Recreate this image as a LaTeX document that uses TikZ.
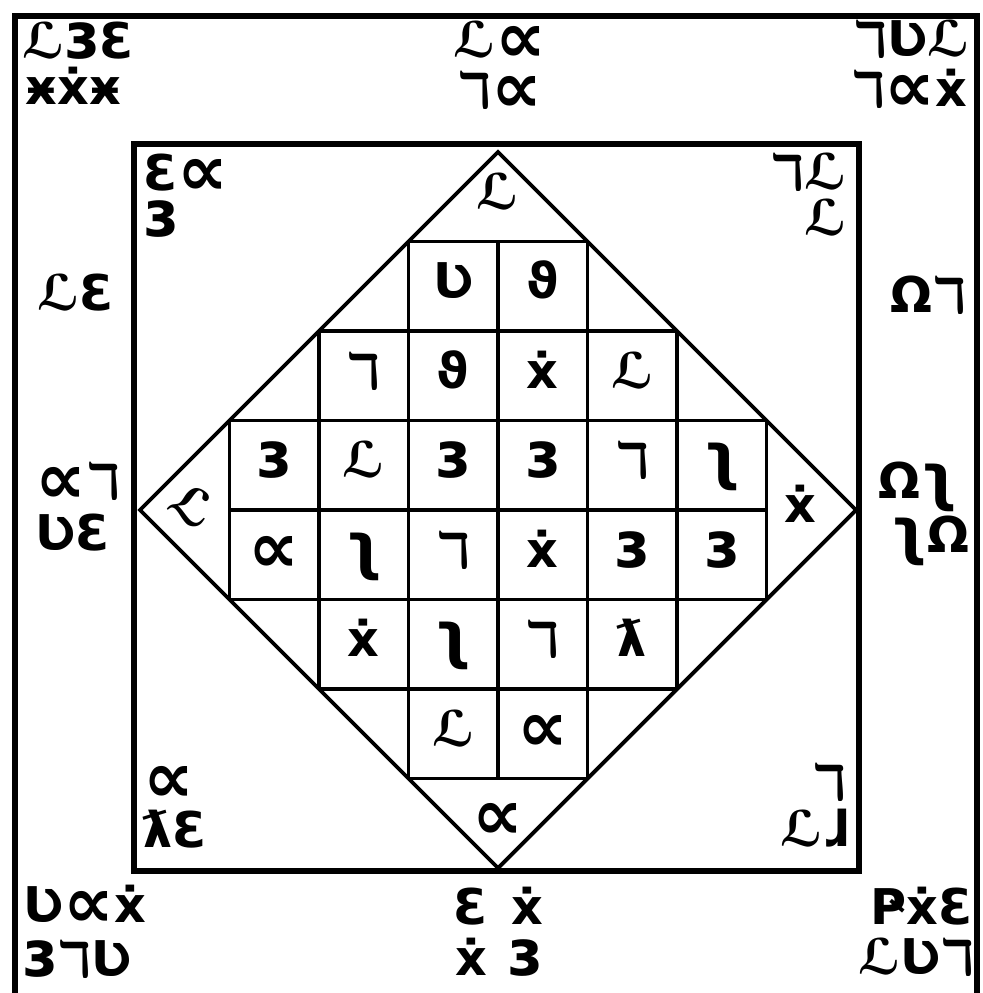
\documentclass[tikz,border=0pt]{standalone}
\usepackage{fontspec}
\setmainfont{DejaVu Sans}
\usetikzlibrary{positioning}
\newcommand\gProp{\raisebox{-0.1em}{\scalebox{1.45}{∝}}}
\newcommand\gHook{\scalebox{1.25}{ʅ}}
\newcommand\gEzh{\scalebox{1.3}{ɜ}}
\tikzset{frame/.style={draw, line width=1.6pt},
  grid/.style={draw, line width=1.1pt},
  glyph/.style={inner sep=0pt, text height=0.72em, text depth=0pt,
    font=\fontsize{14}{14}\selectfont\bfseries}}

\begin{document}
\begin{tikzpicture}[x=0.01cm, y=-0.01cm]
  \useasboundingbox (0,0) rectangle (983,993);
  % frames
  \draw[frame] (15,1000) -- (15,16) -- (977,16) -- (977,1000);
  \draw[frame] (134,144) rectangle (859,871);
  % diamond
  \coordinate (top) at (498,152);
  \coordinate (lft) at (140,510);
  \coordinate (rgt) at (856,510);
  \coordinate (bot) at (498,868);
  \draw[grid] (top) -- (rgt) -- (bot) -- (lft) -- cycle;
  % stepped grid
  \foreach \k/\w in {-3/1,-2/2,-1/3,0/3,1/3,2/2,3/1}{
    \draw[grid] ({498-\w*89.5},{510+\k*89.5}) -- ({498+\w*89.5},{510+\k*89.5});
    \draw[grid] ({498+\k*89.5},{510-\w*89.5}) -- ({498+\k*89.5},{510+\w*89.5});}
  % cells
  \foreach \r/\c/\g in {-3/-1/Ʋ, -3/0/ϑ,
      -2/-2/ℸ, -2/-1/ϑ, -2/0/ẋ, -2/1/ℒ,
      -1/-3/\gEzh, -1/-2/ℒ, -1/-1/\gEzh, -1/0/\gEzh, -1/1/ℸ, -1/2/\gHook,
      0/-3/\gProp, 0/-2/\gHook, 0/-1/ℸ, 0/0/ẋ, 0/1/\gEzh, 0/2/\gEzh,
      1/-2/ẋ, 1/-1/\gHook, 1/0/ℸ, 1/1/ƛ,
      2/-1/ℒ, 2/0/\gProp}
    \node[glyph] (cell\r\c) at ({498+(\c+0.5)*89.5},{510+(\r+0.5)*89.5}) {\g};
  % triangles
  \node[glyph] (ttop) at (498,197) {ℒ};
  \node[glyph, rotate=-35] (tlft) at (190,510) {ℒ};
  \node[glyph] (trgt) at (800,510) {ẋ};
  \node[glyph] (tbot) at (498,822) {\gProp};
  % inner corners
  \node[glyph, anchor=west] (itl1) at (143,178) {Ɛ\gProp};
  \node[glyph, anchor=west] (itl2) at (143,224) {\gEzh};
  \node[glyph, anchor=east] (itr1) at (847,177) {ℸℒ};
  \node[glyph, anchor=east] (itr2) at (847,223) {ℒ};
  \node[glyph, anchor=west] (ibl1) at (143,785) {\gProp};
  \node[glyph, anchor=west] (ibl2) at (143,835) {ƛƐ};
  \node[glyph, anchor=east] (ibr1) at (847,787) {ℸ};
  \node[glyph, anchor=east] (ibr2) at (850,834) {ℒɺ};
  % outer band
  \node[glyph, anchor=west] (tl1) at (22,46) {ℒ\gEzh Ɛ};
  \node[glyph, anchor=west] (tl2) at (25,92) {ӿẋӿ};
  \node[glyph] (tc1) at (500,45) {ℒ\gProp};
  \node[glyph] (tc2) at (500,95) {ℸ\gProp};
  \node[glyph, anchor=east] (tr1) at (970,44) {ℸƲℒ};
  \node[glyph, anchor=east] (tr2) at (968,94) {ℸ\gProp ẋ};
  \node[glyph, anchor=west] (ml1) at (37,298) {ℒƐ};
  \node[glyph, anchor=west] (ml2) at (35,486) {\gProp ℸ};
  \node[glyph, anchor=west] (ml3) at (35,538) {ƲƐ};
  \node[glyph, anchor=east] (mr1) at (967,300) {Ωℸ};
  \node[glyph, anchor=east] (mr2) at (958,486) {Ω\gHook};
  \node[glyph, anchor=east] (mr3) at (970,540) {\gHook Ω};
  \node[glyph, anchor=west] (bl1) at (23,910) {Ʋ\gProp ẋ};
  \node[glyph, anchor=west] (bl2) at (22,964) {\gEzh ℸƲ};
  \node[glyph] (bc1a) at (471,912) {Ɛ};
  \node[glyph] (bc1b) at (527,912) {ẋ};
  \node[glyph] (bc2a) at (471,963) {ẋ};
  \node[glyph] (bc2b) at (525,963) {\gEzh};
  \node[glyph, anchor=east] (br1) at (973,912) {ҎẋƐ};
  \node[glyph, anchor=east] (br2) at (975,962) {ℒƲℸ};
\end{tikzpicture}
\end{document}
